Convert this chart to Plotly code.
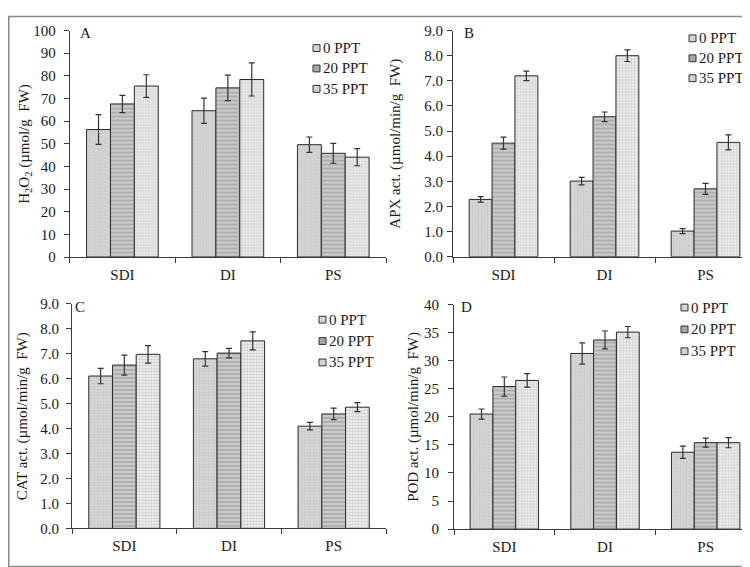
import plotly.graph_objects as go

categories = ["SDI", "DI", "PS"]
series_names = ["0 PPT", "20 PPT", "35 PPT"]

# Panel A: H2O2
h2o2_0 = [56.3, 64.6, 49.6]
h2o2_20 = [67.6, 74.7, 45.8]
h2o2_35 = [75.5, 78.4, 44.1]
h2o2_0_err = [6.6, 5.6, 3.4]
h2o2_20_err = [3.8, 5.6, 4.4]
h2o2_35_err = [5.0, 7.3, 3.8]

# Panel B: APX
apx_0 = [2.28, 3.01, 1.02]
apx_20 = [4.52, 5.57, 2.70]
apx_35 = [7.20, 8.00, 4.55]
apx_0_err = [0.11, 0.15, 0.10]
apx_20_err = [0.24, 0.19, 0.22]
apx_35_err = [0.19, 0.23, 0.30]

# Panel C: CAT
cat_0 = [6.11, 6.80, 4.10]
cat_20 = [6.55, 7.03, 4.59]
cat_35 = [6.98, 7.52, 4.86]
cat_0_err = [0.31, 0.29, 0.15]
cat_20_err = [0.40, 0.19, 0.23]
cat_35_err = [0.35, 0.36, 0.18]

# Panel D: POD
pod_0 = [20.5, 31.3, 13.7]
pod_20 = [25.4, 33.7, 15.4]
pod_35 = [26.5, 35.1, 15.4]
pod_0_err = [0.9, 1.9, 1.1]
pod_20_err = [1.7, 1.6, 0.8]
pod_35_err = [1.2, 1.0, 0.9]

W, H = 750, 567
FONT = "Liberation Serif, Times New Roman, serif"
TXT = "#1a1a1a"
LINE = "#3a3a3a"

def px_x(v):
    return v / W

def px_y(v):
    return 1 - v / H

patterns = [
    dict(shape=".", bgcolor="#d6d6d6", fgcolor="#b4b4b4", size=3, solidity=0.35, fillmode="overlay"),
    dict(shape="-", bgcolor="#cbcbcb", fgcolor="#939393", size=4, solidity=0.5, fillmode="overlay"),
    dict(shape=".", bgcolor="#f8f8f8", fgcolor="#a4a4a4", size=3, solidity=0.55, fillmode="overlay"),
]
swatch_colors = ["#d4d4d4", "#a6a6a6", "#d2d2d2"]

panels = [
    dict(vals=[h2o2_0, h2o2_20, h2o2_35], errs=[h2o2_0_err, h2o2_20_err, h2o2_35_err],
         xdom=(61.7, 378), ydom=(248, 15), yrange=[0, 100], dtick=10, fmt="d", standoff=5,
         title="H<sub>2</sub>O<sub>2</sub> (µmol/g  FW)", tx=17, letter="A", lx=77, ly=17,
         legx=305, legy=[33, 54, 75]),
    dict(vals=[apx_0, apx_20, apx_35], errs=[apx_0_err, apx_20_err, apx_35_err],
         xdom=(445, 748), ydom=(247.7, 15), yrange=[0, 9], dtick=1, fmt=".1f", standoff=1,
         title="APX act. (µmol/min/g  FW)", tx=388, letter="B", lx=461, ly=17,
         legx=681, legy=[23, 43.5, 64]),
    dict(vals=[cat_0, cat_20, cat_35], errs=[cat_0_err, cat_20_err, cat_35_err],
         xdom=(64, 378), ydom=(527.3, 296.3), yrange=[0, 9], dtick=1, fmt=".1f", standoff=4,
         title="CAT act. (µmol/min/g  FW)", tx=14, letter="C", lx=72, ly=299,
         legx=311, legy=[312.5, 334.5, 356.5]),
    dict(vals=[pod_0, pod_20, pod_35], errs=[pod_0_err, pod_20_err, pod_35_err],
         xdom=(446, 748), ydom=(528, 297), yrange=[0, 40], dtick=5, fmt="d", standoff=6,
         title="POD act. (µmol/min/g  FW)", tx=406, letter="D", lx=458, ly=299,
         legx=673, legy=[300, 322.5, 345]),
]

fig = go.Figure()
annotations = []
shapes = []
layout = {}
for i, p in enumerate(panels):
    n = "" if i == 0 else str(i + 1)
    for j in range(3):
        fig.add_trace(go.Bar(
            x=categories, y=p["vals"][j], name=series_names[j],
            xaxis="x" + n, yaxis="y" + n, showlegend=False,
            marker=dict(color=patterns[j]["bgcolor"], pattern=patterns[j],
                        line=dict(color="#2a2a2a", width=1)),
            error_y=dict(type="data", array=p["errs"][j], color="#333333",
                         thickness=1.2, width=3),
        ))
        cy = p["legy"][j]
        shapes.append(dict(
            type="rect", xref="paper", yref="paper",
            x0=px_x(p["legx"]), x1=px_x(p["legx"] + 7),
            y0=px_y(cy + 3.5), y1=px_y(cy - 3.5),
            fillcolor=swatch_colors[j], line=dict(color="#333333", width=1),
        ))
        annotations.append(dict(
            x=px_x(p["legx"] + 8), y=px_y(cy), xref="paper", yref="paper",
            text=series_names[j], showarrow=False, xanchor="left", yanchor="middle",
            font=dict(family=FONT, size=15, color=TXT),
        ))
    layout["xaxis" + n] = dict(
        domain=[px_x(p["xdom"][0]), px_x(p["xdom"][1])],
        anchor="y" + n, type="category", range=[-0.5, 2.5],
        showline=True, linecolor=LINE, linewidth=1,
        ticks="outside", tickson="boundaries", ticklen=5, tickcolor=LINE,
        showgrid=False, zeroline=False, ticklabelstandoff=4,
        tickfont=dict(family=FONT, size=15, color=TXT),
    )
    layout["yaxis" + n] = dict(
        domain=[px_y(p["ydom"][0]), px_y(p["ydom"][1])],
        anchor="x" + n, range=p["yrange"], dtick=p["dtick"], tick0=0,
        tickformat=p["fmt"], ticklabelstandoff=p["standoff"],
        showline=True, linecolor=LINE, linewidth=1,
        ticks="outside", ticklen=5, tickcolor=LINE,
        showgrid=False, zeroline=False,
        tickfont=dict(family=FONT, size=15, color=TXT),
    )
    annotations.append(dict(
        x=px_x(p["tx"]), y=(px_y(p["ydom"][0]) + px_y(p["ydom"][1])) / 2,
        xref="paper", yref="paper", text=p["title"], textangle=-90,
        showarrow=False, xanchor="center", yanchor="middle",
        font=dict(family=FONT, size=15, color=TXT),
    ))
    annotations.append(dict(
        x=px_x(p["lx"]), y=px_y(p["ly"]), xref="paper", yref="paper",
        text=p["letter"], showarrow=False, xanchor="center", yanchor="middle",
        font=dict(family=FONT, size=15, color=TXT),
    ))

shapes.append(dict(type="rect", xref="paper", yref="paper", x0=0.001, y0=0.001, x1=0.999, y1=0.999,
                   line=dict(color="#8a8a8a", width=1.5)))

fig.update_layout(
    width=W, height=H, autosize=False,
    margin=dict(l=0, r=0, t=0, b=0),
    paper_bgcolor="white", plot_bgcolor="white",
    barmode="group", bargap=0.32, bargroupgap=0,
    showlegend=False,
    annotations=annotations,
    shapes=shapes,
    **layout,
)

fig.write_html("out.html")
